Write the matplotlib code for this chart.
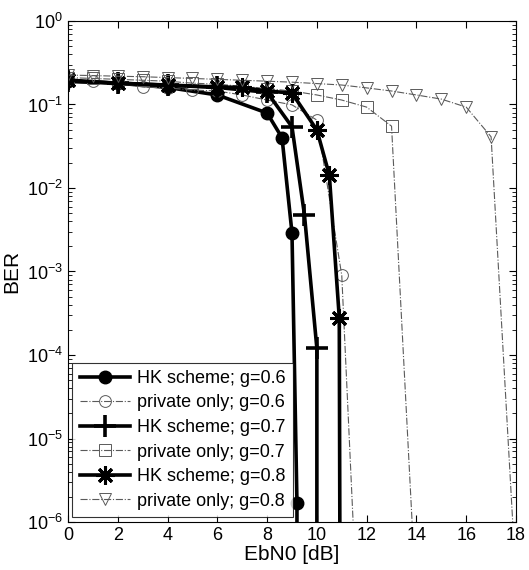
import matplotlib
matplotlib.use("Agg")
import matplotlib.pyplot as plt
import numpy as np

plt.rcParams['font.family'] = ['Liberation Sans', 'DejaVu Sans']
plt.rcParams['mathtext.fontset'] = 'custom'
plt.rcParams['mathtext.rm'] = 'Liberation Sans'
plt.rcParams['mathtext.it'] = 'Liberation Sans'

# HK scheme, g=0.6
hk06_x = [0, 2, 4, 6, 8, 8.6, 9, 9.2, 9.2]
hk06_y = [0.19, 0.18, 0.16, 0.13, 0.079, 0.04, 2.9e-3, 1.7e-6, 1e-9]
# private only, g=0.6
pr06_x = [0, 1, 2, 3, 4, 5, 6, 7, 8, 9, 10, 11, 12]
pr06_y = [0.20, 0.19, 0.18, 0.162, 0.158, 0.149, 0.145, 0.13, 0.113, 0.099, 0.065, 9e-4, 3e-10]
# HK scheme, g=0.7
hk07_x = [0, 2, 4, 6, 8, 9, 9.5, 10, 10]
hk07_y = [0.19, 0.18, 0.17, 0.16, 0.14, 0.054, 4.8e-3, 1.2e-4, 1e-9]
# private only, g=0.7
pr07_x = [0, 1, 2, 3, 4, 5, 6, 7, 8, 9, 10, 11, 12, 13, 14]
pr07_y = [0.21, 0.205, 0.20, 0.195, 0.19, 0.18, 0.175, 0.165, 0.155, 0.145, 0.13, 0.113, 0.093, 0.055, 1e-7]
# HK scheme, g=0.8
hk08_x = [0, 2, 4, 6, 7, 8, 9, 10, 10.5, 10.9, 10.95]
hk08_y = [0.196, 0.18, 0.171, 0.162, 0.16, 0.145, 0.137, 0.0495, 0.0143, 2.8e-4, 1e-9]
# private only, g=0.8
pr08_x = [0, 1, 2, 3, 4, 5, 6, 7, 8, 9, 10, 11, 12, 13, 14, 15, 16, 17, 18]
pr08_y = [0.225, 0.222, 0.218, 0.215, 0.21, 0.205, 0.2, 0.195, 0.19, 0.185, 0.178, 0.171, 0.158, 0.145, 0.13, 0.116, 0.093, 0.041, 2e-7]

labels = ['HK scheme; g=0.6', 'private only; g=0.6', 'HK scheme; g=0.7',
          'private only; g=0.7', 'HK scheme; g=0.8', 'private only; g=0.8']

fig = plt.figure(figsize=(5.29, 5.70), dpi=100)
ax = fig.add_axes([0.1285, 0.0842, 0.8469, 0.8790])

gray = '#5a5a5a'
thin = dict(color=gray, lw=0.8)
ax.semilogy(hk06_x, hk06_y, color='black', lw=2.6, marker='o', ms=9,
            mfc='black', mec='black', label=labels[0])
ax.semilogy(pr06_x, pr06_y, ls='-.', marker='o', ms=8.5, mfc='none',
            mec=gray, mew=0.7, label=labels[1], **thin)
ax.semilogy(hk07_x, hk07_y, color='black', lw=2.6, marker='+', ms=16,
            mew=2.6, label=labels[2])
ax.semilogy(pr07_x, pr07_y, ls='-.', marker='s', ms=8, mfc='none',
            mec=gray, mew=0.7, label=labels[3], **thin)
ax.semilogy(hk08_x, hk08_y, color='black', lw=2.6, marker=(8, 2, 0), ms=13,
            mew=2.2, label=labels[4])
ax.semilogy(pr08_x, pr08_y, ls='-.', marker='v', ms=9, mfc='none',
            mec=gray, mew=0.7, label=labels[5], **thin)

ax.set_xlim(0, 18)
ax.set_ylim(1e-6, 1)
ax.set_xticks(np.arange(0, 19, 2))
ax.tick_params(axis='both', which='both', direction='in', top=True, right=True,
               labelsize=13)
ax.tick_params(which='major', length=5)
ax.tick_params(which='minor', length=3)
ax.set_xlabel('EbN0 [dB]', fontsize=15, labelpad=1)
ax.set_ylabel('BER', fontsize=15, labelpad=4)

leg = ax.legend(loc='lower left', bbox_to_anchor=(0.01, 0.01), borderaxespad=0,
                fontsize=13, frameon=True, fancybox=False, edgecolor='black',
                handlelength=2.8, handletextpad=0.4, labelspacing=0.42,
                borderpad=0.4)
leg.get_frame().set_linewidth(0.8)

fig.savefig('out.png', dpi=100)
